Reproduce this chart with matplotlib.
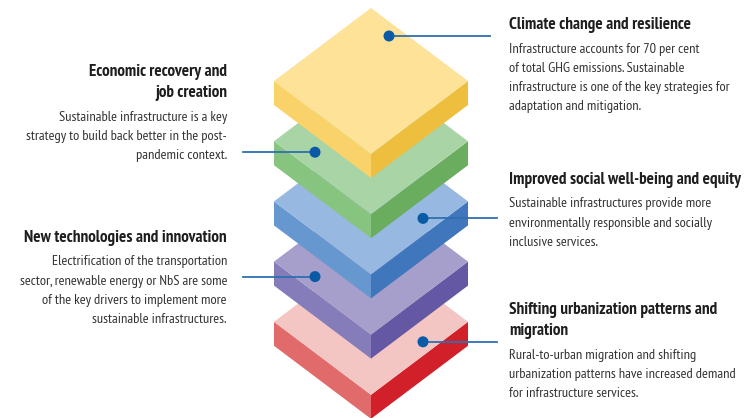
import matplotlib
matplotlib.use("Agg")
import matplotlib.pyplot as plt
from matplotlib.patches import Polygon, Circle

# capas, de arriba hacia abajo
capas = ["clima", "economia", "social", "tecnologia", "urbanizacion"]
color_cara = ["#FDE297", "#A9D5A6", "#97B9E1", "#A69ECB", "#F3C5C3"]
color_izq = ["#F9D36A", "#87C480", "#6797CF", "#857CBA", "#E16B6B"]
color_der = ["#EEBF3E", "#6AAD5E", "#3F76BC", "#6458A5", "#D2202A"]

titulos = [
    ["Climate change and resilience"],
    ["Economic recovery and", "job creation"],
    ["Improved social well-being and equity"],
    ["New technologies and innovation"],
    ["Shifting urbanization patterns and", "migration"],
]
textos = [
    ["Infrastructure accounts for 70 per cent", "of total GHG emissions. Sustainable",
     "infrastructure is one of the key strategies for", "adaptation and mitigation."],
    ["Sustainable infrastructure is a key", "strategy to build back better in the post-",
     "pandemic context."],
    ["Sustainable infrastructures provide more", "environmentally responsible and socially",
     "inclusive services."],
    ["Electrification of the transportation", "sector, renewable energy or NbS are some",
     "of the key drivers to implement more", "sustainable infrastructures."],
    ["Rural-to-urban migration and shifting", "urbanization patterns have increased demand",
     "for infrastructure services."],
]
lado = ["der", "izq", "der", "izq", "der"]

# geometria (pixeles)
cx, semi_w, semi_h, grosor = 371, 97, 73, 24
y0, paso = 81, 60.2
punto = [(18, -45), (-56, 11), (52, 17), (-56, 15), (52, 20)]
fin_linea = [490, 243, 497, 243, 497]
y_titulo = [25, 72, 180, 238, 310]

plt.rcParams['font.family'] = ['PT Sans Narrow', 'Liberation Sans', 'DejaVu Sans']
fig = plt.figure(figsize=(7.51, 4.18), dpi=100)
ax = fig.add_axes([0, 0, 1, 1])
ax.set_xlim(0, 751)
ax.set_ylim(418, 0)
ax.axis("off")

for i in reversed(range(len(capas))):
    yl = y0 + paso * i
    z = 10 - i
    cara = [(cx, yl - semi_h), (cx + semi_w, yl), (cx, yl + semi_h), (cx - semi_w, yl)]
    izq = [(cx - semi_w, yl), (cx, yl + semi_h), (cx, yl + semi_h + grosor), (cx - semi_w, yl + grosor)]
    der = [(cx + semi_w, yl), (cx, yl + semi_h), (cx, yl + semi_h + grosor), (cx + semi_w, yl + grosor)]
    ax.add_patch(Polygon(izq, closed=True, fc=color_izq[i], ec="none", zorder=z))
    ax.add_patch(Polygon(der, closed=True, fc=color_der[i], ec="none", zorder=z))
    ax.add_patch(Polygon(cara, closed=True, fc=color_cara[i], ec="none", zorder=z))
    px, py = cx + punto[i][0], yl + punto[i][1]
    ax.plot([px, fin_linea[i]], [py, py], color="#2F6FB0", lw=1.3, zorder=z + 0.1)
    ax.add_patch(Circle((px, py), 5.5, fc="#0B5AA6", ec="none", zorder=z + 0.2))

for i in range(len(capas)):
    if lado[i] == "der":
        x, ha = 509, "left"
    else:
        x, ha = 227, "right"
    y = y_titulo[i]
    for t in titulos[i]:
        ax.text(x, y, t, ha=ha, va="center", fontsize=12.3, fontweight="bold", color="#1E1E1E")
        y += 21
    y += 3
    for t in textos[i]:
        ax.text(x, y, t, ha=ha, va="center", fontsize=10.4, color="#333333")
        y += 19.2

fig.savefig("out.png", dpi=100)
